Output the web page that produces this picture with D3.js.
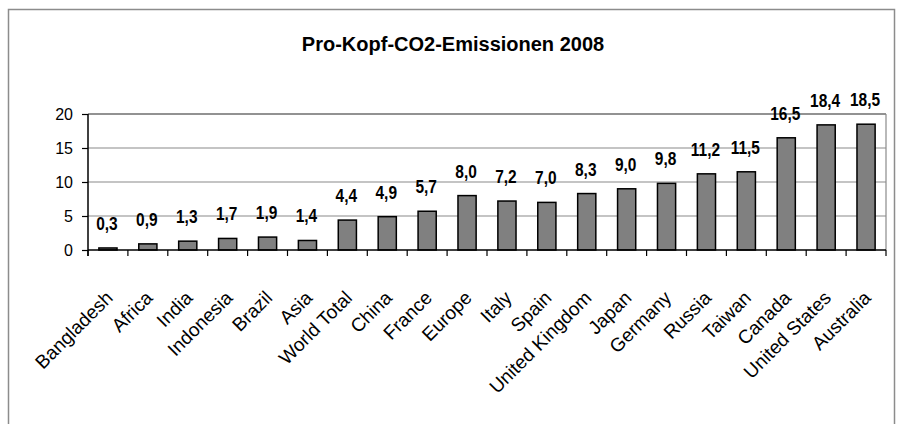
<!DOCTYPE html>
<html>
<head>
<meta charset="utf-8">
<script src="https://cdn.jsdelivr.net/npm/d3@7"></script>
<style>
  html, body { margin: 0; padding: 0; background: #fff; }
  svg { display: block; }
  text { font-family: "Liberation Sans", Arial, sans-serif; fill: #000; }
</style>
</head>
<body>
<svg id="chart" width="898" height="424"></svg>
<script>
// Per-capita CO2 emissions in 2008 (tonnes per person)
const categories = [
  "Bangladesh", "Africa", "India", "Indonesia", "Brazil", "Asia", "World Total",
  "China", "France", "Europe", "Italy", "Spain", "United Kingdom", "Japan",
  "Germany", "Russia", "Taiwan", "Canada", "United States", "Australia"
];
const values = [
  0.3, 0.9, 1.3, 1.7, 1.9, 1.4, 4.4,
  4.9, 5.7, 8.0, 7.2, 7.0, 8.3, 9.0,
  9.8, 11.2, 11.5, 16.5, 18.4, 18.5
];
const yTicks = [0, 5, 10, 15, 20];
const title = "Pro-Kopf-CO2-Emissionen 2008";

const svg = d3.select("#chart");
const plot = { left: 88, right: 886, top: 114, bottom: 250 };

// outer chart frame
svg.append("rect")
  .attr("x", 8.5).attr("y", 9.5)
  .attr("width", 886).attr("height", 440)
  .attr("fill", "none").attr("stroke", "#8c8c8c").attr("stroke-width", 1.5);

const y = d3.scaleLinear().domain([0, 20]).range([plot.bottom, plot.top]);

// slots for tick marks and labels, bars sit centred in them
const slot = d3.scaleBand().domain(categories).range([plot.left, plot.right]).padding(0);
const bar = d3.scaleBand().domain(categories).range([plot.left, plot.right])
  .paddingInner(0.545).paddingOuter(0.2725);

// horizontal gridlines
svg.append("g").selectAll("line")
  .data(yTicks.filter(t => t > 0))
  .join("line")
  .attr("x1", plot.left).attr("x2", plot.right)
  .attr("y1", d => y(d)).attr("y2", d => y(d))
  .attr("stroke", d => d === 20 ? "#6e6e6e" : "#8a8a8a")
  .attr("stroke-width", d => d === 20 ? 1.6 : 1.2);

// right border of the plot area
svg.append("line")
  .attr("x1", plot.right).attr("x2", plot.right)
  .attr("y1", plot.top).attr("y2", plot.bottom)
  .attr("stroke", "#8a8a8a").attr("stroke-width", 1.2);

// bars
svg.append("g").selectAll("rect")
  .data(values)
  .join("rect")
  .attr("x", (d, i) => bar(categories[i]))
  .attr("y", d => y(d))
  .attr("width", bar.bandwidth())
  .attr("height", d => y(0) - y(d))
  .attr("fill", "#808080")
  .attr("stroke", "#000")
  .attr("stroke-width", 1.5);

// value labels
const fmt = v => v.toFixed(1).replace(".", ",");
svg.append("g").selectAll("text")
  .data(values)
  .join("text")
  .attr("transform", (d, i) =>
    `translate(${bar(categories[i]) + bar.bandwidth() / 2 - 1},${y(d) - 18}) scale(0.86,1)`)
  .attr("text-anchor", "middle")
  .attr("font-size", 18)
  .attr("font-weight", "bold")
  .text(d => fmt(d));

// y axis
const yAxis = svg.append("g")
  .attr("transform", `translate(${plot.left},0)`)
  .call(d3.axisLeft(y).tickValues(yTicks).tickSize(6).tickPadding(9).tickFormat(d3.format("d")));
yAxis.select(".domain").attr("stroke", "#000").attr("stroke-width", 1.5)
  .attr("d", `M0,${plot.top}V${plot.bottom + 6}`);
yAxis.selectAll(".tick line").attr("stroke", "#000").attr("stroke-width", 1.2);
yAxis.selectAll(".tick text")
  .attr("font-size", 16)
  .attr("font-family", "Liberation Sans, Arial, sans-serif")
  .attr("fill", "#000");

// x axis line
svg.append("line")
  .attr("x1", plot.left).attr("x2", plot.right)
  .attr("y1", plot.bottom).attr("y2", plot.bottom)
  .attr("stroke", "#000").attr("stroke-width", 1.5);

// x tick marks at slot boundaries
const bounds = categories.map(c => slot(c)).concat([plot.right]);
svg.append("g").selectAll("line")
  .data(bounds)
  .join("line")
  .attr("x1", d => d).attr("x2", d => d)
  .attr("y1", plot.bottom).attr("y2", plot.bottom + 6)
  .attr("stroke", "#000").attr("stroke-width", 1.2);

// rotated category labels
svg.append("g").selectAll("text")
  .data(categories)
  .join("text")
  .attr("transform", d => `translate(${slot(d) + slot.bandwidth() / 2 + 6},${299}) rotate(-45)`)
  .attr("text-anchor", "end")
  .attr("font-size", 19)
  .text(d => d);

// title
svg.append("text")
  .attr("x", 453).attr("y", 51)
  .attr("text-anchor", "middle")
  .attr("font-size", 20)
  .attr("font-weight", "bold")
  .text(title);
</script>
</body>
</html>
